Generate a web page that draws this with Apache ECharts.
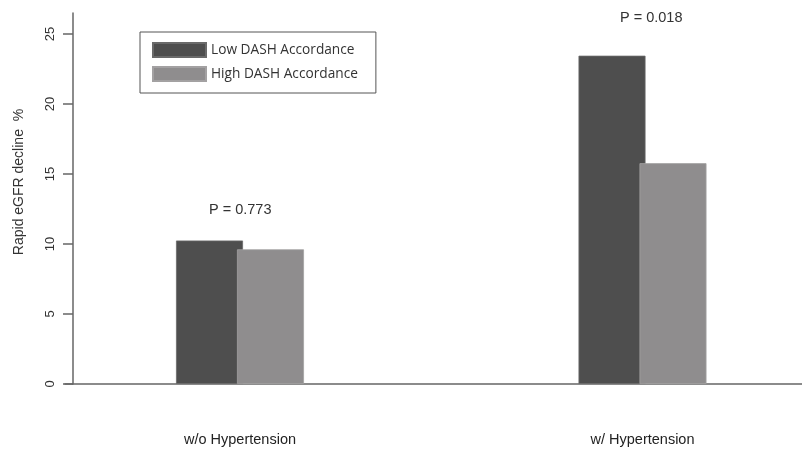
<!DOCTYPE html>
<html>
<head>
<meta charset="utf-8">
<script src="https://cdn.jsdelivr.net/npm/echarts@6/dist/echarts.min.js"></script>
<style>
  html, body { margin: 0; padding: 0; background: #fff; }
  #main { width: 802px; height: 451px; }
</style>
</head>
<body>
<div id="main"></div>
<script>
  const groups = ['w/o Hypertension', 'w/ Hypertension'];
  const lowDash = [10.25, 23.45];
  const highDash = [9.62, 15.77];
  const yTicks = [0, 5, 10, 15, 20, 25];
  const pLabels = ['P = 0.773', 'P = 0.018'];

  const myChart = echarts.init(document.getElementById('main'));
  const font = 'Liberation Sans, Arial, sans-serif';

  myChart.setOption({
    animation: false,
    color: ['#4e4e4e', '#8f8d8e'],
    legend: {
      orient: 'vertical',
      left: 140,
      top: 32,
      padding: [10, 18, 11, 12],
      borderColor: '#555',
      borderWidth: 1,
      borderRadius: 0,
      itemWidth: 53,
      itemHeight: 14,
      itemGap: 8,
      icon: 'rect',
      data: ['Low DASH Accordance', 'High DASH Accordance'],
      textStyle: { fontFamily: 'Open Sans, sans-serif', fontSize: 13.7, color: '#333', lineHeight: 14 }
    },
    grid: [
      // bars
      { left: 38.75, width: 805, top: 13, bottom: 67, outerBoundsMode: 'none' },
      // axis line frame
      { left: 65, right: 0, top: 13, bottom: 67, outerBoundsMode: 'none' }
    ],
    xAxis: [
      {
        gridIndex: 0, type: 'category', data: groups,
        axisLine: { show: false }, axisTick: { show: false },
        axisLabel: { margin: 48, fontFamily: font, fontSize: 14.5, color: '#222' }
      },
      {
        gridIndex: 1, type: 'category', data: groups,
        axisLine: { lineStyle: { color: '#666', width: 1.5 } },
        axisTick: { show: false }, axisLabel: { show: false }
      }
    ],
    yAxis: [
      {
        gridIndex: 0, type: 'value', min: 0, max: 26.5,
        offset: -34.25,
        splitLine: { show: false },
        name: 'Rapid eGFR decline  %',
        nameLocation: 'middle',
        nameGap: 47,
        nameTextStyle: { fontFamily: font, fontSize: 14, color: '#333', padding: [0, 0, 0, 33] },
        axisLine: { show: true, lineStyle: { color: '#666', width: 1.5 } },
        axisTick: { show: true, length: 10, customValues: yTicks, lineStyle: { color: '#666', width: 1.5 } },
        axisLabel: {
          customValues: yTicks, rotate: 90, margin: 16,
          fontFamily: font, fontSize: 13, color: '#333'
        }
      },
      { gridIndex: 1, type: 'value', min: 0, max: 26.5, show: false }
    ],
    series: [
      {
        name: 'Low DASH Accordance', type: 'bar', xAxisIndex: 0, yAxisIndex: 0,
        barWidth: 67, barGap: '-9%',
        itemStyle: { borderColor: '#6a6a6a', borderWidth: 0.8 },
        data: lowDash
      },
      {
        name: 'High DASH Accordance', type: 'bar', xAxisIndex: 0, yAxisIndex: 0,
        barWidth: 67, barGap: '-9%',
        itemStyle: { borderColor: '#a3a1a2', borderWidth: 0.8 },
        data: highDash
      }
    ],
    graphic: [
      {
        type: 'text', left: 209, top: 202,
        style: { text: pLabels[0], fontFamily: font, fontSize: 14.5, fill: '#333' }
      },
      {
        type: 'text', left: 620, top: 10,
        style: { text: pLabels[1], fontFamily: font, fontSize: 14.5, fill: '#333' }
      }
    ]
  });
  window.addEventListener('resize', myChart.resize);
</script>
</body>
</html>
